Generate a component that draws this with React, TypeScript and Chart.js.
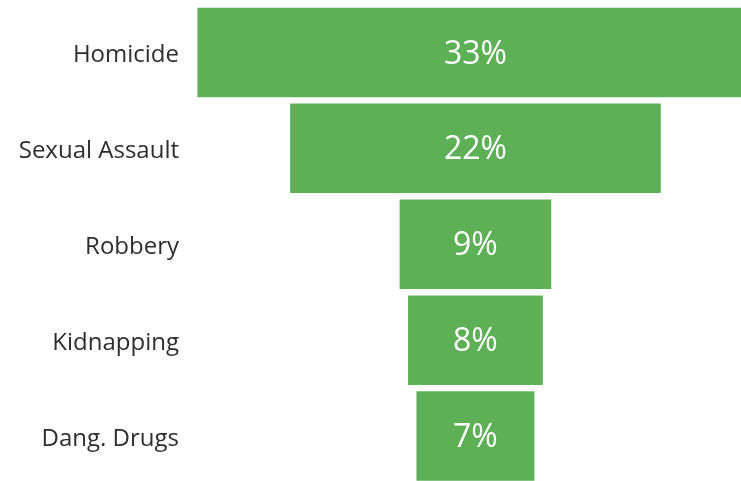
import React, { useEffect, useRef } from "react";
import { Chart, registerables } from "chart.js";

Chart.register(...registerables);

const categories = ["Homicide", "Sexual Assault", "Robbery", "Kidnapping", "Dang. Drugs"];
const shares = [33, 22, 9, 8, 7];
const valueLabels = shares.map((v) => `${v}%`);

const BAR_COLOR = "rgb(93,176,86)";

const valueLabelPlugin = {
  id: "valueLabels",
  afterDatasetsDraw(chart: any) {
    const ctx = chart.ctx;
    const meta = chart.getDatasetMeta(0);
    ctx.save();
    ctx.fillStyle = "#ffffff";
    ctx.font = "32px 'Open Sans'";
    ctx.textAlign = "center";
    ctx.textBaseline = "middle";
    meta.data.forEach((bar: any, i: number) => {
      const props = bar.getProps(["x", "y", "base"], true);
      const cx = (props.x + props.base) / 2;
      ctx.fillText(valueLabels[i], cx, props.y + 2);
    });
    ctx.restore();
  },
};

export default function App() {
  const canvasRef = useRef<HTMLCanvasElement | null>(null);

  useEffect(() => {
    document.body.style.margin = "0";
    document.body.style.overflow = "hidden";
    const canvas = canvasRef.current;
    if (!canvas) return;
    const chart = new Chart(canvas, {
      type: "bar",
      data: {
        labels: categories,
        datasets: [
          {
            data: shares.map((v) => [-v / 2, v / 2]) as any,
            backgroundColor: BAR_COLOR,
            borderWidth: 0,
            categoryPercentage: 1,
            barPercentage: 0.933,
          },
        ],
      },
      options: {
        indexAxis: "y",
        animation: false,
        responsive: true,
        maintainAspectRatio: false,
        layout: { padding: { top: 4.5, left: 0, right: 0, bottom: 0 } },
        plugins: {
          legend: { display: false },
          tooltip: { enabled: false },
        },
        scales: {
          x: {
            display: false,
            min: -16.94,
            max: 15.76,
          },
          y: {
            grid: { display: false, drawTicks: false },
            border: { display: false },
            ticks: {
              color: "#2e2e2e",
              font: { family: "'Open Sans'", size: 24 },
              padding: 11,
              labelOffset: 3,
            },
            afterFit(scale: any) {
              scale.width = 190;
              scale.paddingTop = 0;
              scale.paddingBottom = 0;
            },
          },
        },
      },
      plugins: [valueLabelPlugin],
    });
    return () => chart.destroy();
  }, []);

  return (
    <div style={{ position: "fixed", left: 0, top: 0, width: 741, height: 481, overflow: "hidden", background: "#fff" }}>
      <div style={{ position: "relative", width: 741, height: 484 }}>
        <canvas ref={canvasRef} />
      </div>
    </div>
  );
}
